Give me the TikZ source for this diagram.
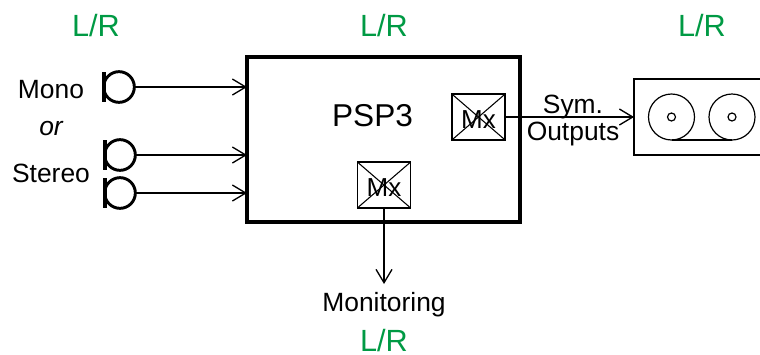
\documentclass[tikz,border=0pt]{standalone}
\usepackage{fontspec}
\setmainfont{Liberation Sans}
\usetikzlibrary{arrows.meta, positioning}
\definecolor{chanGreen}{HTML}{009A44}

\begin{document}
\begin{tikzpicture}[
  x=0.75pt, y=-0.75pt,
  chan/.style={font=\fontsize{23}{26}\selectfont, text=chanGreen, inner sep=0pt},
  lbl/.style={font=\fontsize{19.8}{22}\selectfont, text=black, inner sep=0pt},
  jack/.style={circle, draw=black, line width=2.2pt, minimum size=23pt, inner sep=0pt, outer sep=0pt},
  jackbar/.style={fill=black, minimum width=3pt, minimum height=23pt, inner sep=0pt},
  mixbox/.style={draw=black, line width=1.2pt, minimum width=40pt, minimum height=34.5pt, inner sep=0pt, outer sep=0pt, text height=17pt, text depth=0pt, font=\fontsize{19.5}{20}\selectfont},
  reel/.style={circle, draw=black, line width=0.9pt, minimum size=34.5pt, inner sep=0pt, outer sep=0pt},
  hub/.style={circle, draw=black, line width=0.9pt, minimum size=6pt, inner sep=0pt, outer sep=0pt},
  sig/.style={line width=1.1pt, -{Straight Barb[length=10pt, width=12pt, line width=1pt]}},
]
  \useasboundingbox (0,0) rectangle (760,354);

  % Channel labels
  \node[chan] (chIn) at (96,26) {L/R};
  \node[chan] (chDsp) at (384,26) {L/R};
  \node[chan] (chTape) at (702,26) {L/R};
  \node[chan] (chMon) at (384,341) {L/R};

  % Inputs
  \node[lbl] (mono) at (51,90) {Mono};
  \node[lbl, font=\fontsize{19.8}{22}\selectfont\itshape] (orr) at (51,129) {or};
  \node[lbl] (stereo) at (51,173) {Stereo};
  \node[jack] (jackA) at (119,87) {};
  \node[jack] (jackB) at (120,155) {};
  \node[jack] (jackC) at (120,193) {};
  \node[jackbar] (barA) at (103.5,87) {};
  \node[jackbar] (barB) at (105,155) {};
  \node[jackbar] (barC) at (105,193) {};

  % Main unit
  \node[draw=black, line width=2.7pt, minimum width=204.75pt, minimum height=123.75pt, inner sep=0pt, outer sep=0pt] (dsp) at (383.5,139.5) {};
  \node[lbl, font=\fontsize{23.7}{26}\selectfont] (dspname) at (372.5,116) {PSP3};
  \node[mixbox] (mixOut) at (478.5,117) {Mx};
  \node[mixbox] (mixMon) at (384,185) {Mx};
  \foreach \m in {mixOut, mixMon} {
    \draw[line width=0.8pt] (\m.north west) -- (\m.south east);
    \draw[line width=0.8pt] (\m.north east) -- (\m.south west);
  }

  % Tape machine, runs off the right edge
  \draw[line width=1.1pt] (760,79) -- (634,79) -- (634,155) -- (760,155);
  \node[reel] (reelA) at (671.5,117) {};
  \node[reel] (reelB) at (732,117) {};
  \node[hub] at (reelA.center) (hubA) {};
  \node[hub] at (reelB.center) (hubB) {};
  \draw[line width=1.6pt] (reelA.south) -- (reelB.south);
  \coordinate (tapeIn) at (634,117);

  % Signal lines
  \draw[sig] (jackA) -- (jackA -| dsp.west);
  \draw[sig] (jackB) -- (jackB -| dsp.west);
  \draw[sig] (jackC) -- (jackC -| dsp.west);
  \draw[sig] (mixOut) -- (tapeIn);
  \coordinate (monOut) at (384,284);
  \draw[sig] (mixMon) -- (monOut);

  \node[lbl] (sym) at (573,107) {Sym.};
  \node[lbl] (outs) at (573,134) {Outputs};
  \node[lbl] (mon) at (384,305) {Monitoring};
\end{tikzpicture}
\end{document}
